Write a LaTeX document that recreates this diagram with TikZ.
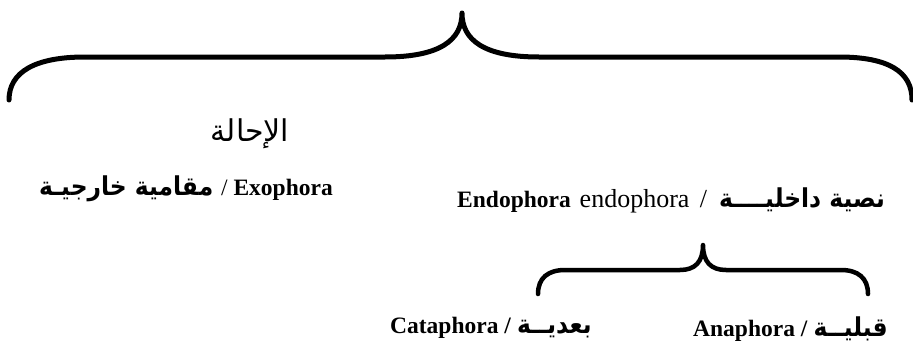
\documentclass[tikz,border=0pt]{standalone}
\usepackage{fontspec}
\setmainfont{Liberation Serif}
\newfontfamily\arabicfont[Script=Arabic]{DejaVu Sans}
\newfontfamily\arabicnarrow[Script=Arabic,FakeStretch=0.9]{DejaVu Sans}
\TeXXeTstate=1
\newcommand{\ar}[1]{{\fontsize{26}{30}\selectfont\arabicnarrow\bfseries\beginR #1\endR}}
\begin{document}
\begin{tikzpicture}[x=1pt,y=-1pt,
  lbl/.style={inner sep=0pt,font=\fontsize{23.5}{28}\selectfont},
  bracebig/.style={line width=5pt,line cap=round,line join=round},
  bracesmall/.style={line width=4.5pt,line cap=round,line join=round}]
\useasboundingbox (0,0) rectangle (913,356);
% big brace
\coordinate (bl) at (9,100);
\coordinate (br) at (912,100);
\coordinate (bt) at (462,13);
\draw[bracebig] (bl) .. controls (9,72) and (35,57) .. (85,57) -- (385,57)
   .. controls (440,57) and (462,40) .. (bt)
   .. controls (462,40) and (484,57) .. (539,57) -- (839,57)
   .. controls (889,57) and (912,72) .. (br);
% small brace
\coordinate (sl) at (538,294);
\coordinate (sr) at (868,294);
\coordinate (st) at (703,245);
\draw[bracesmall] (sl) .. controls (538,278) and (548,270) .. (565,270) -- (680,270)
   .. controls (695,270) and (703,262) .. (st)
   .. controls (703,262) and (711,270) .. (726,270) -- (841,270)
   .. controls (858,270) and (868,278) .. (sr);
% labels
\node[inner sep=0pt,font=\fontsize{30}{34}\selectfont\arabicfont] (ihala) at (250,134) {\beginR الإحالة\endR};
\node[lbl,anchor=base east] (exo) at (333,195) {\ar{مقامية خارجيـة}\hspace{2pt} / \textbf{Exophora}};
\node[lbl,anchor=base west] (endo) at (457,207) {\textbf{Endophora}\hspace{3pt} {\fontsize{26}{30}\selectfont endophora\hspace{4pt} /}\hspace{6pt} \ar{نصية داخليــــة}};
\node[lbl,anchor=base west] (cata) at (390,333) {\textbf{Cataphora /} \ar{بعديــة}};
\node[lbl,anchor=base west] (ana) at (693,336) {\textbf{Anaphora /} \ar{قبليــة}};
\end{tikzpicture}
\end{document}
